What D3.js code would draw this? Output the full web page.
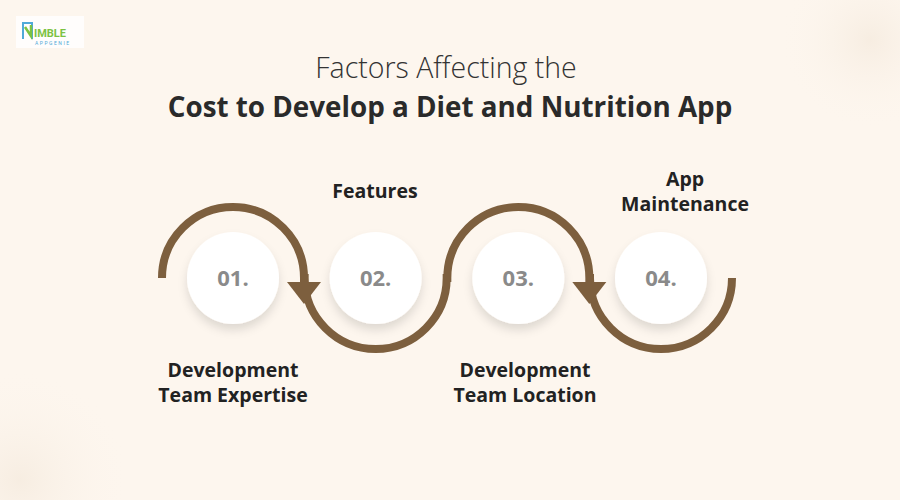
<!DOCTYPE html>
<html><head><meta charset="utf-8">
<script src="https://cdn.jsdelivr.net/npm/d3@7"></script>
<style>body{margin:0;background:#fdf6ee}svg{display:block}</style>
</head><body>
<svg id="c" width="900" height="500"></svg>
<script>
const steps = ["01.","02.","03.","04."];
const labels = [["Development","Team Expertise"],["Features"],["Development","Team Location"],["App","Maintenance"]];
const labelSide = ["below","above","below","above"];
const titleLines = ["Factors Affecting the","Cost to Develop a Diet and Nutrition App"];

const svg = d3.select("#c");
const W=900,H=500, cy=278, R=71, r=46;
const x = d3.scalePoint().domain(steps).range([233,661]);
const brown="#7d5f3e";

const defs=svg.append("defs");
const f=defs.append("filter").attr("id","sh").attr("x","-50%").attr("y","-50%").attr("width","200%").attr("height","200%");
f.append("feDropShadow").attr("dx",0).attr("dy",6).attr("stdDeviation",5).attr("flood-color","#000").attr("flood-opacity",0.12);
const rg=defs.append("radialGradient").attr("id","glow");
rg.append("stop").attr("offset","0").attr("stop-color","#f6ece0").attr("stop-opacity",0.9);
rg.append("stop").attr("offset","1").attr("stop-color","#fdf6ee").attr("stop-opacity",0);
svg.append("rect").attr("width",W).attr("height",H).attr("fill","#fdf6ee");
svg.append("circle").attr("cx",870).attr("cy",40).attr("r",90).attr("fill","url(#glow)");
svg.append("circle").attr("cx",20).attr("cy",480).attr("r",110).attr("fill","url(#glow)");

// logo
svg.append("rect").attr("x",16).attr("y",16).attr("width",68).attr("height",32).attr("fill","#fff").attr("opacity",0.8);
svg.append("path").attr("d","M23,39V23H32V39").attr("fill","none").attr("stroke","#4fa9d8").attr("stroke-width",2);
svg.append("path").attr("d","M25,27L31,36V25").attr("fill","none").attr("stroke","#7cc242").attr("stroke-width",2.5);
svg.append("text").attr("x",34).attr("y",37).attr("font-family","Roboto").attr("font-weight",700).attr("font-size",11).attr("fill","#7cc242").text("IMBLE");
svg.append("text").attr("x",35).attr("y",45).attr("font-family","Roboto").attr("font-size",5).attr("letter-spacing",1.5).attr("fill","#4fa9d8").text("APPGENIE");

// title
svg.append("text").attr("x",446).attr("y",78).attr("text-anchor","middle").attr("font-family","Open Sans").attr("font-weight",300).attr("font-size",28.5).attr("fill","#333").text(titleLines[0]);
svg.append("text").attr("x",450).attr("y",117).attr("text-anchor","middle").attr("font-family","Open Sans").attr("font-weight",700).attr("font-size",27.8).attr("fill","#2a2a2a").text(titleLines[1]);

// wave path
let p=d3.path();
steps.forEach((s,i)=>{
  const cx=x(s);
  if(i===0) p.moveTo(cx-R,cy);
  if(i%2===0) p.arc(cx,cy,R,Math.PI,0,false);
  else p.arc(cx,cy,R,Math.PI,0,true);
});
svg.append("path").attr("d",p.toString()).attr("fill","none").attr("stroke",brown).attr("stroke-width",8);
steps.forEach((s,i)=>{
  if(i%2===0){
    const ax=x(s)+R;
    svg.append("path").attr("d",`M${ax-17},${cy+4}L${ax+17},${cy+4}L${ax},${cy+26}Z`).attr("fill",brown);
  }
});
const g=svg.selectAll("g.n").data(steps).join("g").attr("class","n");
g.append("circle").attr("cx",d=>x(d)).attr("cy",cy).attr("r",r).attr("fill","#fff").attr("filter","url(#sh)");
g.append("text").attr("x",d=>x(d)).attr("y",cy+8).attr("text-anchor","middle").attr("font-family","Open Sans").attr("font-weight",700).attr("font-size",22).attr("fill","#8a8a8a").text(d=>d);
const lx=[233,375,525,685];
labels.forEach((ls,i)=>{
  const below=labelSide[i]==="below";
  const y0= below?377:(ls.length===2?186:198);
  ls.forEach((t,j)=>{
    svg.append("text").attr("x",lx[i]).attr("y",y0+j*25).attr("text-anchor","middle").attr("font-family","Open Sans").attr("font-weight",700).attr("font-size",19.5).attr("fill","#222").text(t);
  });
});
</script>
</body></html>
